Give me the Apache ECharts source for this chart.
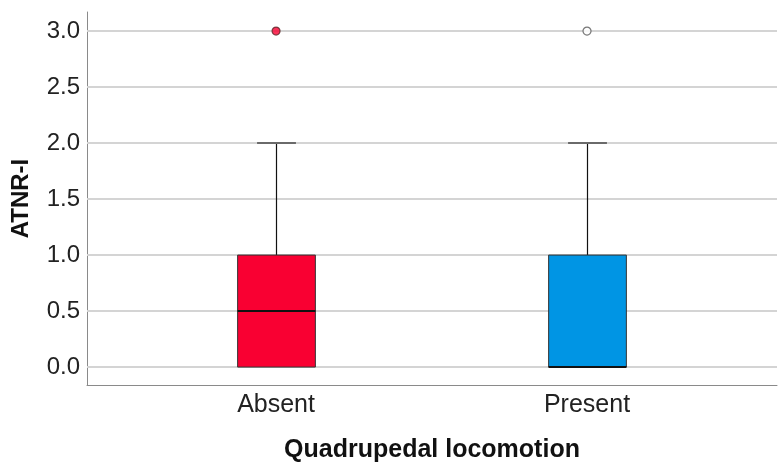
<!DOCTYPE html>
<html>
<head>
<meta charset="utf-8">
<script src="https://cdn.jsdelivr.net/npm/echarts@6/dist/echarts.min.js"></script>
<style>
html,body{margin:0;padding:0;background:#fff;}
#c{width:784px;height:469px;}
</style>
</head>
<body>
<div id="c"></div>
<script>
// ---- data ----
var categories = ['Absent', 'Present'];
// [min, Q1, median, Q3, max]
var boxStats = [
  [0, 0, 0.5, 1.0, 2.0],
  [0, 0, 0.0, 1.0, 2.0]
];
var outliers = [
  [0, 3.0],
  [1, 3.0]
];
var yTicks = [0, 0.5, 1.0, 1.5, 2.0, 2.5, 3.0];
var xTicks = [0, 1];
var boxColors = ['#f90032', '#0095e4'];
var outlierFill = ['#f90032', '#ffffff'];
var outlierBorder = ['#5a2a2a', '#555555'];

var chart = echarts.init(document.getElementById('c'), null, {renderer: 'canvas'});
var FONT = '"Liberation Sans", Arial, sans-serif';

var customData = boxStats.map(function (s, i) { return [i].concat(s); });
var BOX_W = 0.25; // in category units

function renderBox(params, api) {
  var idx = api.value(0);
  var vmin = api.value(1), q1 = api.value(2), med = api.value(3), q3 = api.value(4), vmax = api.value(5);
  var bw = api.size([BOX_W, 0])[0];
  var cw = bw / 2;
  var pMin = api.coord([idx, vmin]);
  var pQ1 = api.coord([idx, q1]);
  var pMed = api.coord([idx, med]);
  var pQ3 = api.coord([idx, q3]);
  var pMax = api.coord([idx, vmax]);
  var x = Math.round(pMin[0]) + 0.5;
  var children = [];
  children.push({type: 'line', shape: {x1: x, y1: pQ3[1], x2: x, y2: pMax[1]}, style: {stroke: '#111', lineWidth: 1.2}});
  children.push({type: 'line', shape: {x1: x, y1: pMin[1], x2: x, y2: pQ1[1]}, style: {stroke: '#111', lineWidth: 1.2}});
  children.push({type: 'line', shape: {x1: x - cw / 2, y1: pMax[1], x2: x + cw / 2, y2: pMax[1]}, style: {stroke: '#6a6a6a', lineWidth: 2}});
  children.push({type: 'rect', shape: {x: x - bw / 2, y: pQ3[1], width: bw, height: pQ1[1] - pQ3[1]},
    style: {fill: boxColors[idx], stroke: '#333', lineWidth: 1}});
  children.push({type: 'line', shape: {x1: x - bw / 2, y1: pMed[1], x2: x + bw / 2, y2: pMed[1]}, style: {stroke: '#111', lineWidth: 2}});
  return {type: 'group', children: children};
}

var option = {
  backgroundColor: '#ffffff',
  animation: false,
  grid: {left: 87, right: 7, top: 12, bottom: 84},
  xAxis: {
    type: 'value',
    min: -0.608,
    max: 1.611,
    axisLine: {show: true, onZero: false, lineStyle: {color: '#8a8a8a', width: 1}},
    axisTick: {show: false},
    axisLabel: {
      color: '#222', fontSize: 25, fontFamily: FONT, margin: 8,
      customValues: xTicks,
      formatter: function (v) { return categories[Math.round(v)] || ''; }
    },
    splitLine: {show: false},
    name: 'Quadrupedal locomotion',
    nameLocation: 'middle',
    nameGap: 53,
    nameTextStyle: {color: '#111', fontSize: 25, fontWeight: 'bold', fontFamily: FONT}
  },
  yAxis: {
    type: 'value',
    min: -0.16,
    max: 3.17,
    axisLine: {show: true, onZero: false, lineStyle: {color: '#8a8a8a', width: 1}},
    axisTick: {show: false},
    axisLabel: {
      color: '#222', fontSize: 24, fontFamily: FONT, margin: 7,
      customValues: yTicks,
      formatter: function (v) { return v.toFixed(1); }
    },
    splitLine: {show: false},
    name: 'ATNR-I',
    nameLocation: 'middle',
    nameGap: 54,
    nameRotate: 90,
    nameTextStyle: {color: '#111', fontSize: 24, fontWeight: 'bold', fontFamily: FONT}
  },
  series: [
    {
      type: 'line',
      data: [],
      z: 1,
      silent: true,
      markLine: {
        z: 1,
        silent: true,
        symbol: ['none', 'none'],
        label: {show: false},
        lineStyle: {color: '#d4d4d4', width: 2, type: 'solid'},
        data: yTicks.map(function (t) { return {yAxis: t}; })
      }
    },
    {
      type: 'custom',
      z: 3,
      renderItem: renderBox,
      data: customData,
      encode: {x: 0, y: [1, 2, 3, 4, 5]}
    },
    {
      type: 'scatter',
      z: 4,
      symbol: 'circle',
      symbolSize: 8,
      data: outliers.map(function (o, i) {
        return {value: o, itemStyle: {color: outlierFill[i], borderColor: outlierBorder[i], borderWidth: 1.2}};
      })
    }
  ]
};
chart.setOption(option);
</script>
</body>
</html>
